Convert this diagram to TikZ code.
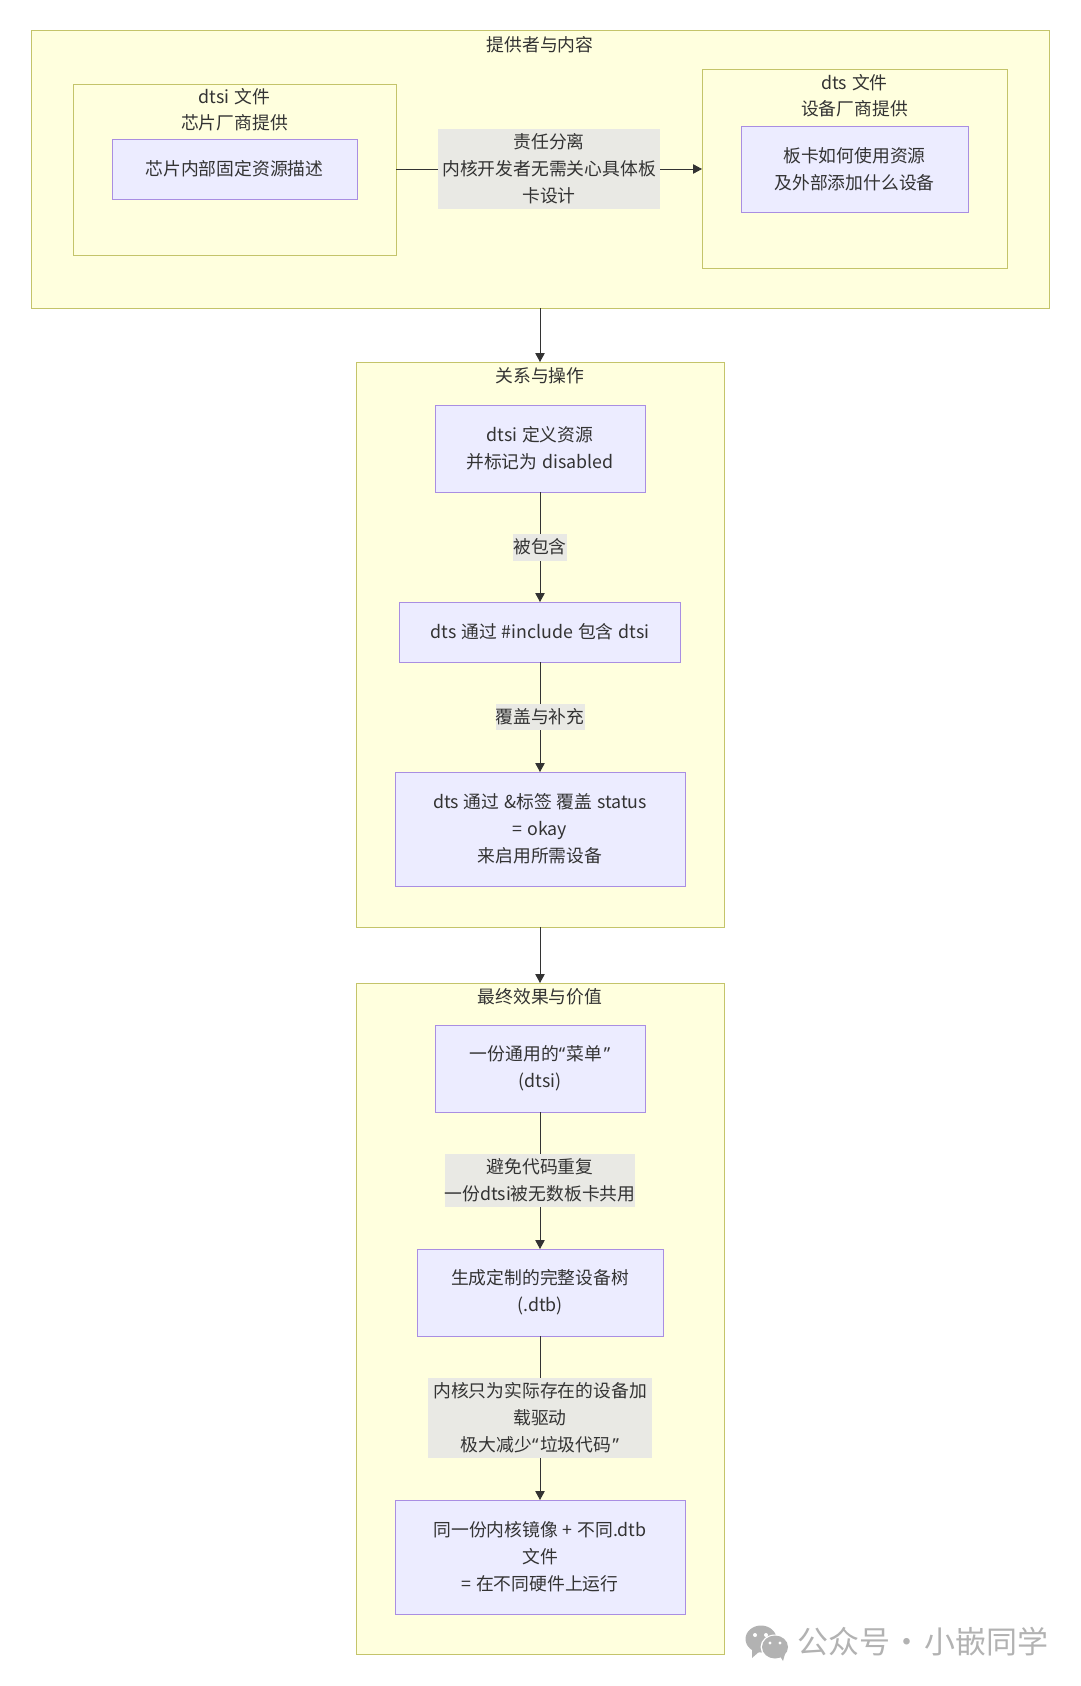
\documentclass[tikz,border=0pt]{standalone}
\usepackage{fontspec}
\usepackage{xcolor}
\setmainfont[WordSpace=1.2]{Noto Sans CJK SC}
\newfontfamily\quotefont{Noto Sans}
\newfontfamily\markfont{Noto Sans CJK SC}
\usetikzlibrary{positioning, arrows.meta}

\definecolor{groupfill}{HTML}{FFFFDE}
\definecolor{groupline}{HTML}{C4C46A}
\definecolor{stepfill}{HTML}{ECECFF}
\definecolor{stepline}{HTML}{A98EE2}
\definecolor{labelfill}{HTML}{E9E9E4}
\definecolor{inkcolor}{HTML}{333333}
\definecolor{markgrey}{HTML}{B2B2B2}

\newcommand{\openq}{{\quotefont “}\hspace{1.5pt}}
\newcommand{\closeq}{\hspace{1.5pt}{\quotefont ”}}

\tikzset{
    textstyle/.style={font=\fontsize{17.8}{26.9}\selectfont, text=inkcolor, align=center},
    groupbox/.style={draw=groupline, fill=groupfill, line width=1pt, inner sep=0pt, outer sep=0pt},
    stepbox/.style={textstyle, draw=stepline, fill=stepfill, line width=1pt, inner sep=0pt, outer sep=0pt},
    edgelabel/.style={textstyle, fill=labelfill, inner sep=0pt, outer sep=0pt},
    grouptitle/.style={textstyle, inner sep=0pt, outer sep=0pt},
    flow/.style={-{Triangle[length=9pt, width=9.5pt]}, draw=inkcolor, line width=0.9pt}
}

\begin{document}
\begin{tikzpicture}[x=1pt, y=1pt, node distance=40pt]
    \useasboundingbox (0,0) rectangle (1080,-1686);

    % Providers
    \node (provider) [groupbox, minimum width=1018pt, minimum height=277pt, anchor=north west] at (31,-31) {};
    \node (providertitle) [grouptitle, anchor=center] at (540,-45) {提供者与内容};

    \node (dtsigroup) [groupbox, minimum width=323pt, minimum height=171pt, below right=53pt and 42pt of provider.north west] {};
    \node (dtsititle) [grouptitle, anchor=north, below=4pt of dtsigroup.north] {dtsi 文件\\芯片厂商提供};
    \node (dtsinode) [stepbox, minimum width=245pt, minimum height=60pt, below=55pt of dtsigroup.north] {芯片内部固定资源描述};

    \node (dtsgroup) [groupbox, minimum width=305pt, minimum height=198pt, anchor=north west] at (702,-70) {};
    \node (dtstitle) [grouptitle, below=4pt of dtsgroup.north] {dts 文件\\设备厂商提供};
    \node (dtsnode) [stepbox, minimum width=227pt, minimum height=86pt, below=56pt of dtsgroup.north] {板卡如何使用资源\\及外部添加什么设备};

    \draw[flow] (dtsinode -| dtsigroup.east) -- node[edgelabel, text width=222pt, minimum height=80pt] (split) {责任分离\\内核开发者无需关心具体板\\卡设计} (dtsinode -| dtsgroup.west);

    % Relations
    \node (relation) [groupbox, minimum width=368pt, minimum height=565pt, below=54pt of provider.south] {};
    \node (relationtitle) [grouptitle, anchor=center] at (540,-376) {关系与操作};
    \node (define) [stepbox, minimum width=210pt, minimum height=87pt, below=43pt of relation.north] {dtsi 定义资源\\并标记为 disabled};
    \node (include) [stepbox, minimum width=281pt, minimum height=60pt, below=110pt of define.south] {dts 通过 \#include 包含 dtsi};
    \node (override) [stepbox, minimum width=290pt, minimum height=114pt, below=110pt of include.south] {dts 通过 \&标签 覆盖 status\\= okay\\来启用所需设备};

    \draw[flow] (provider) -- (relation);
    \draw[flow] (define) -- node[edgelabel, minimum width=54pt, minimum height=27pt] (includedlabel) {被包含} (include);
    \draw[flow] (include) -- node[edgelabel, minimum width=89pt, minimum height=26pt] (overridelabel) {覆盖与补充} (override);

    % Results
    \node (result) [groupbox, minimum width=368pt, minimum height=671pt, below=56pt of relation.south] {};
    \node (resulttitle) [grouptitle, anchor=center] at (540,-997) {最终效果与价值};
    \node (menu) [stepbox, minimum width=210pt, minimum height=87pt, below=42pt of result.north] {一份通用的\openq 菜单\closeq\\(dtsi)};
    \node (tree) [stepbox, minimum width=246pt, minimum height=87pt, below=137pt of menu.south] {生成定制的完整设备树\\(.dtb)};
    \node (image) [stepbox, minimum width=290pt, minimum height=114pt, below=164pt of tree.south] {同一份内核镜像 + 不同.dtb\\文件\\= 在不同硬件上运行};

    \draw[flow] (relation) -- (result);
    \draw[flow] (menu) -- node[edgelabel, minimum width=190pt, minimum height=53pt] (reuselabel) {避免代码重复\\一份dtsi被无数板卡共用} (tree);
    \draw[flow] (tree) -- node[edgelabel, text width=224pt, minimum height=80pt] (loadlabel) {内核只为实际存在的设备加\\载驱动\\极大减少\openq 垃圾代码\closeq} (image);

    % Mark
    \node (marktext) [font=\markfont\fontsize{31}{31}\selectfont, text=markgrey, inner sep=0pt, anchor=west] at (797,-1642) {公众号\makebox[34pt]{·}小嵌同学};
    \begin{scope}[markgrey]
        \fill (761,-1639) ellipse (15.5pt and 13.5pt);
        \fill (752,-1650) -- (752,-1658) -- (760,-1651) -- cycle;
        \fill[white] (775,-1647) ellipse (14.5pt and 12.5pt);
        \fill (775,-1647) ellipse (13pt and 11.5pt);
        \fill (780,-1656) -- (783,-1661) -- (785,-1654) -- cycle;
        \fill[white] (755,-1635) circle (2pt) (766,-1635) circle (2pt);
        \fill[white] (770,-1643) circle (1.6pt) (780,-1643) circle (1.6pt);
    \end{scope}
\end{tikzpicture}
\end{document}
